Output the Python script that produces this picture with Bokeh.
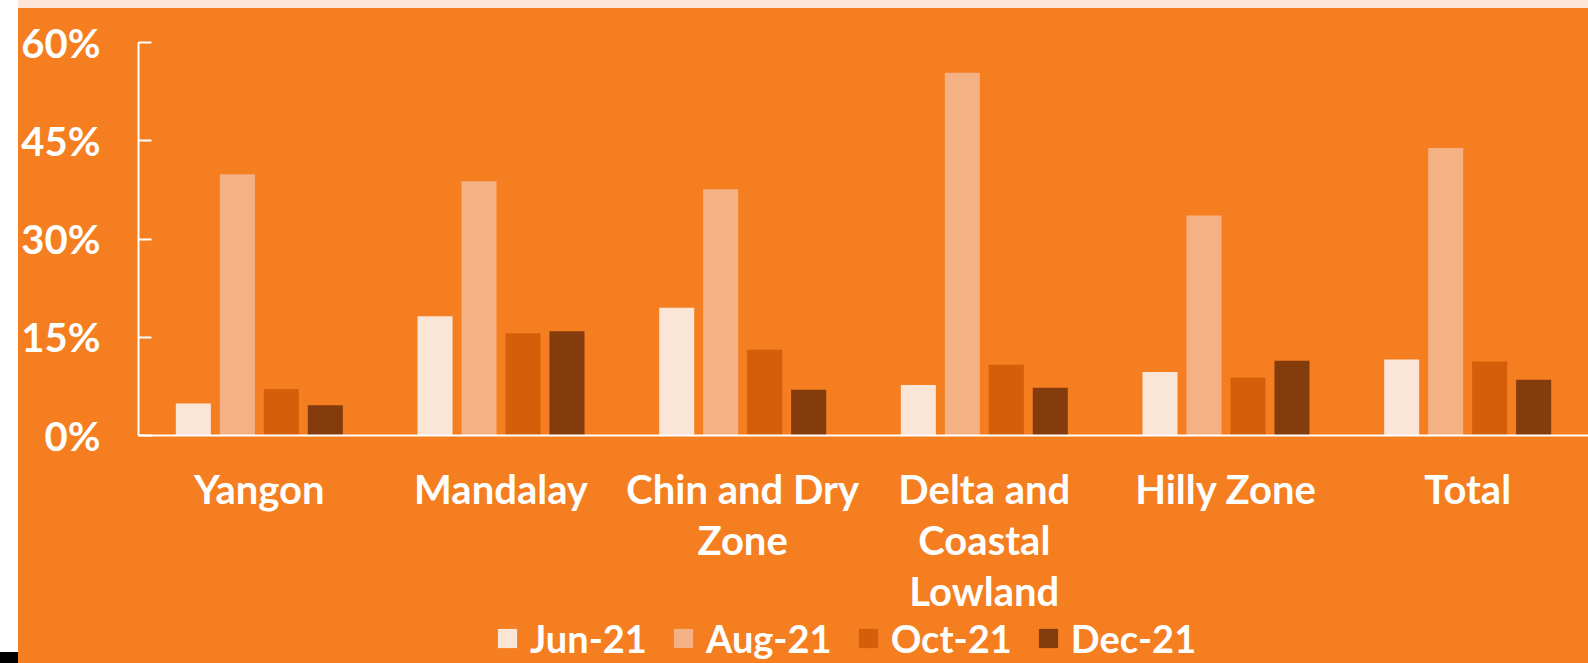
from bokeh.plotting import figure
from bokeh.models import FixedTicker, Legend, LegendItem, Div, Range1d, ColumnDataSource, CustomJSTickFormatter
from bokeh.layouts import row, column
from bokeh.embed import file_html
from bokeh.resources import INLINE
from bokeh.transform import dodge

categories = ["Yangon", "Mandalay", "Chin and Dry Zone", "Delta and Coastal Lowland", "Hilly Zone", "Total"]
cat_labels = ["Yangon", "Mandalay", "Chin and Dry\nZone", "Delta and\nCoastal\nLowland", "Hilly Zone", "Total"]
series = ["Jun-21", "Aug-21", "Oct-21", "Dec-21"]
jun21 = [4.9, 18.2, 19.5, 7.7, 9.7, 11.6]
aug21 = [39.9, 38.8, 37.6, 55.4, 33.6, 43.9]
oct21 = [7.1, 15.6, 13.1, 10.8, 8.8, 11.3]
dec21 = [4.6, 15.9, 7.0, 7.3, 11.4, 8.5]
colors = ["#FBE5D6", "#F4B183", "#D35F0A", "#843C0C"]
yticks = [0, 15, 30, 45, 60]

ORANGE = "#F47E20"
FONT = "Lato"

xs = [i + 0.5 for i in range(len(categories))]
src = ColumnDataSource(dict(x=xs, cat=categories, jun=jun21, aug=aug21, oct=oct21, dec=dec21))

p = figure(width=1570, height=610, x_range=Range1d(0, 6), y_range=Range1d(0, 60),
           output_backend="svg", toolbar_location=None,
           min_border_left=120, min_border_right=0, min_border_top=34, min_border_bottom=183)
p.background_fill_color = None
p.border_fill_color = None
p.outline_line_color = None
p.xgrid.visible = False
p.ygrid.visible = False

offsets = [-0.273, -0.091, 0.091, 0.273]
fields = ["jun", "aug", "oct", "dec"]
for f, off, c in zip(fields, offsets, colors):
    p.vbar(x=dodge("x", off, range=p.x_range), top=f, width=0.145, source=src,
           fill_color=c, line_color=None)

# x axis
p.xaxis.ticker = FixedTicker(ticks=xs)
p.xaxis.formatter = CustomJSTickFormatter(args=dict(labels=cat_labels),
                                          code="return labels[Math.floor(tick)];")
p.xaxis.major_tick_line_color = None
p.xaxis.minor_tick_line_color = None
p.xaxis.axis_line_color = "white"
p.xaxis.axis_line_width = 2
p.xaxis.major_label_text_color = "white"
p.xaxis.major_label_text_font = FONT
p.xaxis.major_label_text_font_style = "bold"
p.xaxis.major_label_text_font_size = "40px"
p.xaxis.major_label_standoff = 23
p.xaxis.major_label_text_line_height = 1.07

# y axis
p.yaxis.ticker = FixedTicker(ticks=yticks)
p.yaxis.major_label_overrides = {t: f"{t}%" for t in yticks}
p.yaxis.axis_line_color = "white"
p.yaxis.axis_line_width = 2
p.yaxis.major_tick_line_color = "white"
p.yaxis.major_tick_line_width = 2
p.yaxis.major_tick_in = 13
p.yaxis.major_tick_out = 0
p.yaxis.minor_tick_line_color = None
p.yaxis.major_label_text_color = "white"
p.yaxis.major_label_text_font = FONT
p.yaxis.major_label_text_font_style = "bold"
p.yaxis.major_label_text_font_size = "40px"
p.yaxis.major_label_standoff = 38

# legend strip (frame aligned with the chart above)
lf = figure(width=1570, height=45, x_range=Range1d(0, 6), y_range=Range1d(0, 1),
            output_backend="svg", toolbar_location=None,
            min_border_left=120, min_border_right=0, min_border_top=0, min_border_bottom=0)
lf.background_fill_color = None
lf.border_fill_color = None
lf.outline_line_color = None
lf.axis.visible = False
lf.grid.visible = False
key_src = ColumnDataSource(dict(x=[xs[0]], top=[0]))
leg_rs = [lf.vbar(x="x", top="top", width=0.1, source=key_src, fill_color=c, line_color=None)
          for c in colors]
legend = Legend(items=[LegendItem(label=s, renderers=[r]) for s, r in zip(series, leg_rs)],
                orientation="horizontal", location=(357, 2))
legend.label_text_color = "white"
legend.label_text_font = FONT
legend.label_text_font_style = "bold"
legend.label_text_font_size = "38px"
legend.label_text_line_height = 0.9
legend.glyph_width = 24
legend.glyph_height = 24
legend.label_standoff = 11
legend.spacing = 24
legend.background_fill_alpha = 0
legend.border_line_color = None
legend.margin = 0
legend.padding = 0
lf.add_layout(legend, "center")

left = column(Div(width=18, height=652, margin=0),
              Div(width=18, height=11, margin=0, styles={"background-color": "black"}),
              spacing=0)
right = column(Div(width=1570, height=8, margin=0, styles={"background-color": "#FCE4D6"}),
               p, lf, spacing=0, styles={"background-color": ORANGE})
layout = row(left, right, spacing=0)

open("out.html", "w").write(file_html(layout, INLINE))
